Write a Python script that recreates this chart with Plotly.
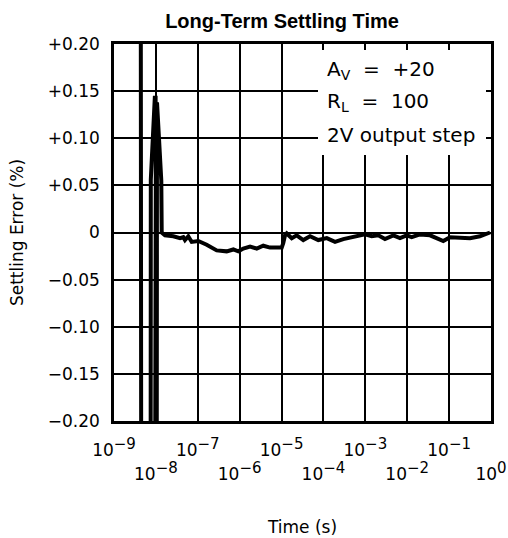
import plotly.graph_objects as go

# Settling error (%) vs time (s)
time_s = [4.29e-9, 4.53e-9, 7.43e-9, 7.56e-9, 9.42e-9, 9.84e-9, 9.95e-9, 9.26e-9,
          1.034e-8, 1.063e-8, 1.186e-8, 1.346e-8, 1.376e-8, 1.44e-8,
          1.65e-8, 2.61e-8, 3.77e-8, 4.51e-8, 4.95e-8, 5.94e-8, 7.16e-8, 1.03e-7, 1.63e-7, 2.83e-7,
          4.90e-7, 7.05e-7, 9.27e-7, 1.22e-6, 1.77e-6, 2.55e-6, 3.66e-6, 5.30e-6, 1.01e-5, 1.10e-5,
          1.21e-5, 1.33e-5, 1.75e-5, 2.30e-5, 3.30e-5, 4.78e-5, 7.53e-5, 1.20e-4, 1.89e-4, 2.98e-4,
          6.22e-4, 9.82e-4, 1.42e-3, 2.04e-3, 2.94e-3, 4.66e-3, 6.72e-3, 9.70e-3, 1.28e-2, 2.02e-2,
          3.50e-2, 5.06e-2, 7.26e-2, 0.105, 0.182, 0.315, 0.546, 0.789, 0.946]
error_pct = [0.6, -0.6, -0.6, 0.056, 0.143, 0.143, 0.05, -0.6,
             -0.6, 0.138, 0.10, 0.055, 0.0, -0.001,
             -0.003, -0.004, -0.006, -0.005, -0.008, -0.004, -0.010, -0.009, -0.013, -0.019,
             -0.020, -0.018, -0.020, -0.017, -0.015, -0.017, -0.014, -0.016, -0.016, -0.011,
             -0.003, -0.001, -0.006, -0.003, -0.008, -0.004, -0.008, -0.006, -0.010, -0.007,
             -0.004, -0.002, -0.004, -0.003, -0.007, -0.003, -0.006, -0.003, -0.005, -0.002,
             -0.003, -0.006, -0.009, -0.005, -0.006, -0.006, -0.004, -0.001, 0.000]

SUP = "<sup><span style='font-size:15px'>{}</span></sup>"
x_decades = [1e-9, 1e-8, 1e-7, 1e-6, 1e-5, 1e-4, 1e-3, 1e-2, 1e-1, 1e0]
x_labels_upper = ["10" + SUP.format("\u22129"), "", "10" + SUP.format("\u22127"), "",
                  "10" + SUP.format("\u22125"), "", "10" + SUP.format("\u22123"), "",
                  "10" + SUP.format("\u22121"), ""]
x_lower_vals = [1e-8, 1e-6, 1e-4, 1e-2, 1e0]
x_labels_lower = ["10" + SUP.format("\u22128"), "10" + SUP.format("\u22126"), "10" + SUP.format("\u22124"),
                  "10" + SUP.format("\u22122"), "10" + SUP.format("0")]
y_vals = [-0.20, -0.15, -0.10, -0.05, 0.0, 0.05, 0.10, 0.15, 0.20]
y_labels = ["\u22120.20", "\u22120.15", "\u22120.10", "\u22120.05", "0",
            "+0.05", "+0.10", "+0.15", "+0.20"]
notes = ["A<sub>V</sub>\u00a0\u00a0=\u00a0\u00a0+20", "R<sub>L</sub>\u00a0\u00a0=\u00a0\u00a0100", "2V output step"]

FONT = "DejaVu Sans"
W, H = 508, 538
ML, MR, MT, MB = 114, 17, 44, 117
PW, PH = W - ML - MR, H - MT - MB

def px_x(p):
    return (p - ML) / PW

def px_y(p):
    return (H - MB - p) / PH

fig = go.Figure()
fig.add_trace(go.Scatter(x=time_s, y=error_pct, mode="lines",
                         line=dict(color="black", width=4), hoverinfo="skip", showlegend=False))
fig.add_trace(go.Scatter(x=[1e-9, 1], y=[0, 0], xaxis="x2", mode="markers",
                         marker=dict(opacity=0), hoverinfo="skip", showlegend=False))

axis_common = dict(showgrid=True, gridcolor="black", gridwidth=1.6, automargin=False,
                   showline=True, linecolor="black", linewidth=2.5, mirror="ticks",
                   ticks="inside", ticklen=5, tickwidth=1.5, tickcolor="black",
                   zeroline=False, tickfont=dict(family=FONT, size=17, color="black"))

fig.update_layout(
    width=W, height=H,
    margin=dict(l=ML, r=MR, t=MT, b=MB, autoexpand=False),
    paper_bgcolor="white", plot_bgcolor="white",
    title=dict(text="<b>Long-Term Settling Time</b>", x=282 / W, xref="container", xanchor="center",
               y=1 - 21 / H, yref="container", yanchor="middle", automargin=False,
               font=dict(family="Liberation Sans", size=20, color="black")),
    xaxis=dict(type="log", range=[-9, 0], tickmode="array", tickvals=x_decades, ticktext=x_labels_upper,
               ticklabelstandoff=12,
               title=dict(text="Time (s)", font=dict(family=FONT, size=17, color="black"), standoff=62),
               **axis_common),
    xaxis2=dict(type="log", range=[-9, 0], overlaying="x", anchor="y", side="bottom",
                tickmode="array", tickvals=x_lower_vals, ticktext=x_labels_lower,
                showgrid=False, showline=False, zeroline=False, ticks="", automargin=False,
                ticklabelstandoff=41,
                tickfont=dict(family=FONT, size=17, color="black")),
    yaxis=dict(range=[-0.2, 0.2], tickmode="array", tickvals=y_vals, ticktext=y_labels,
               ticklabelstandoff=8,
               title=dict(text="Settling Error (%)", font=dict(family=FONT, size=17, color="black"), standoff=20),
               **axis_common),
    shapes=[dict(type="rect", xref="paper", yref="paper",
                 x0=px_x(318), x1=px_x(486), y0=px_y(155), y1=px_y(50),
                 fillcolor="white", line=dict(width=0), layer="above")],
)

for txt, py in zip(notes, [70, 102, 135]):
    fig.add_annotation(text=txt, xref="paper", yref="paper", x=px_x(325), y=px_y(py),
                       xanchor="left", yanchor="middle", showarrow=False, align="left",
                       font=dict(family=FONT, size=20, color="black"))

fig.write_html("out.html", config={"displayModeBar": False},
               post_script="document.body.style.margin='0';")
